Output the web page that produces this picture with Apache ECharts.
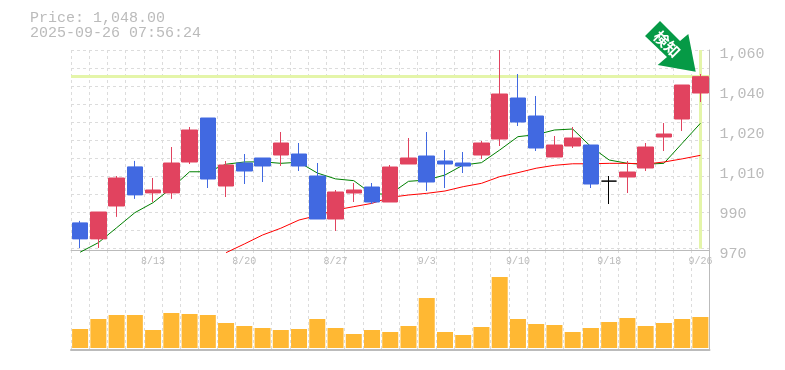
<!DOCTYPE html>
<html><head><meta charset="utf-8">
<style>html,body{margin:0;padding:0;background:#fff}#c{width:785px;height:370px}</style>
<script src="https://cdn.jsdelivr.net/npm/echarts@6/dist/echarts.min.js"></script>
</head><body><div id="c"></div>
<script>
const dates=['8/6','8/7','8/8','8/12','8/13','8/14','8/15','8/18','8/19','8/20','8/21','8/22','8/25','8/26','8/27','8/28','8/29','9/1','9/2','9/3','9/4','9/5','9/8','9/9','9/10','9/11','9/12','9/16','9/17','9/18','9/19','9/22','9/24','9/25','9/26'];
const opens=[982.2,975,989.8,1007.4,995.7,995.7,1009.6,1029.4,998.8,1009.15,1011.4,1012.75,1013.2,1003.3,983.95,995.65,998.35,991.6,1008.7,1012.3,1010.05,1009.15,1012.75,1019.95,1038.4,1030.3,1011.85,1016.8,1017.25,1001,1002.85,1006.9,1020.85,1028.95,1040.65];
const closes=[975,987.1,1002.4,994.8,997,1009.15,1024,1001.95,1008.25,1005.55,1007.8,1018.15,1007.8,983.95,996.1,997,991.6,1007.35,1011.4,1000.6,1008.7,1007.8,1018.15,1040.2,1027.6,1015.9,1017.25,1020.4,999.7,1001,1005.1,1016.35,1022.2,1044.25,1048];
const lows=[970.9,970.9,984.9,993,991.6,993,1008.7,997.9,993.85,999.7,1000.6,1007.8,1005.55,983.95,978.55,991.6,990.7,991.6,1008.7,996.55,997.9,1004.65,1010.95,1016.8,1025.8,1014.55,1011.85,1015.9,997.9,990.7,995.65,1005.55,1014.55,1023.55,1036.6];
const highs=[983.1,987.1,1003.3,1010.1,1002.4,1016.35,1025.35,1029.4,1010.05,1013.2,1011.4,1023.1,1018.15,1009.15,997,1000.15,1000.15,1008.25,1020.4,1023.1,1015,1014.1,1019.05,1060,1049.2,1039.3,1021.3,1025.35,1017.25,1003.3,1010.05,1018.15,1027.15,1044.25,1049.2];
const maShort=[969,973.3,980,986.8,991.3,997.8,1005.2,1005.2,1008.6,1009.6,1009.7,1009,1009.5,1004.65,1002,1001.2,995.2,995.2,1000.9,1001.5,1003.75,1008.25,1009.3,1015,1021,1021.9,1024,1024.45,1016.5,1010.5,1009,1008.6,1009,1018,1027];
const maLong=[null,null,null,null,null,null,null,null,968.8,972.7,976.75,979.8,983.5,985.5,988,989.5,991,993.7,994.75,995.5,996.55,998.5,1000,1003,1004.8,1006.8,1008.1,1008.8,1008.8,1009,1009,1008.7,1009.6,1011,1012.6];
const volumes=[19,29,33,33,18,35,34,33,25,22,20,18,19,29,20,14,18,16,22,50,16,13,21,71,29,24,23,16,20,26,30,22,25,29,31];
const yTickValues=[970,988,1006,1024,1042,1060];
const yTickLabels=['970','990','1,010','1,020','1,040','1,060'];
const lastPrice=1048;
const priceText='Price: 1,048.00';
const timeText='2025-09-26 07:56:24';
const badgeText='検知';

const mono='"Liberation Mono",monospace';
const gridLine={show:true,interval:0,lineStyle:{color:'#dcdcdc',type:[3,3],width:1}};
const hl='#e4f5a9';
const chart=echarts.init(document.getElementById('c'),null,{renderer:'canvas'});
chart.setOption({
  animation:false,
  backgroundColor:'#fff',
  title:[
    {text:priceText,left:25,top:6,textStyle:{fontFamily:mono,fontSize:15,fontWeight:'normal',color:'#bbb'}},
    {text:timeText,left:25,top:21,textStyle:{fontFamily:mono,fontSize:15,fontWeight:'normal',color:'#bbb'}}
  ],
  grid:[
    {left:71,width:638.5,top:50,height:200},
    {left:71,width:638.5,top:250,height:100}
  ],
  xAxis:[
    {type:'category',gridIndex:0,data:dates,boundaryGap:true,
     axisLine:{show:true,onZero:false,lineStyle:{color:'#bbb',width:1}},axisTick:{show:false},
     axisLabel:{show:true,interval:i=>i%5===4,margin:6,fontFamily:mono,fontSize:10,color:'#bbb',hideOverlap:false},
     splitLine:gridLine},
    {type:'category',gridIndex:1,data:dates,boundaryGap:true,
     axisLine:{show:true,onZero:false,lineStyle:{color:'#bbb',width:2}},axisTick:{show:false},axisLabel:{show:false},
     splitLine:gridLine}
  ],
  yAxis:[
    {type:'value',gridIndex:0,position:'right',min:970,max:1060,scale:true,
     axisLine:{show:true,lineStyle:{color:'#bbb',width:1}},axisTick:{show:false},
     axisLabel:{show:true,customValues:yTickValues,margin:10,verticalAlign:'top',lineHeight:8,fontFamily:mono,fontSize:15,color:'#bbb',
       showMinLabel:true,showMaxLabel:true,
       formatter:v=>yTickLabels[yTickValues.indexOf(v)]},
     splitLine:{show:false}},
    {type:'value',gridIndex:0,position:'left',min:0,max:200/18,interval:1,inverse:true,
     axisLine:{show:false},axisTick:{show:false},axisLabel:{show:false},
     splitLine:{show:true,lineStyle:{color:'#dcdcdc',type:[3,3],width:1}}},
    {type:'value',gridIndex:1,position:'right',min:-2,max:98,
     axisLine:{show:true,onZero:false,lineStyle:{color:'#bbb',width:1}},axisTick:{show:false},axisLabel:{show:false},splitLine:{show:false}}
  ],
  series:[
    {type:'line',name:'highlight',xAxisIndex:0,yAxisIndex:0,data:[],z:1,silent:true,
     markLine:{silent:true,symbol:'none',label:{show:false},animation:false,
       lineStyle:{color:hl,width:3,type:'solid'},z:1,
       data:[{yAxis:lastPrice},[{coord:[dates[34],1060]},{coord:[dates[34],970.6]}]]}},
    {type:'line',name:'MA short',xAxisIndex:0,yAxisIndex:0,data:maShort,showSymbol:false,symbol:'none',clip:false,z:3,
     lineStyle:{color:'#008000',width:1}},
    {type:'line',name:'MA long',xAxisIndex:0,yAxisIndex:0,data:maLong,showSymbol:false,symbol:'none',clip:false,z:3,connectNulls:false,
     lineStyle:{color:'#ff0000',width:1}},
    {type:'candlestick',name:'Price',xAxisIndex:0,yAxisIndex:0,z:5,barWidth:16,
     itemStyle:{color:'#e1435f',color0:'#4169e1',borderColor:'#e1435f',borderColor0:'#4169e1',borderColorDoji:'#000',borderWidth:1},
     data:dates.map((d,i)=>[opens[i],closes[i],lows[i],highs[i]])},
    {type:'bar',name:'Volume',xAxisIndex:1,yAxisIndex:2,data:volumes,barWidth:16,itemStyle:{color:'#ffb833'},z:3}
  ],
  graphic:[
    {type:'polygon',z:20,silent:true,
     shape:{points:[[660,21],[680,41],[688.3,34],[695.7,71.7],[657.7,65],[667,57],[645,36]]},
     style:{fill:'#069a46'}},
    {type:'text',z:21,silent:true,x:667,y:44,rotation:-Math.PI/4,
     style:{text:badgeText,fill:'#fff',font:'bold 15px "Noto Sans CJK JP"',align:'center',verticalAlign:'middle'}}
  ]
});
</script></body></html>
